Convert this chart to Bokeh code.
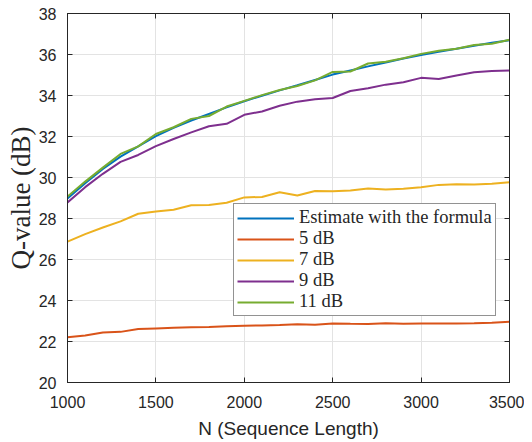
from bokeh.plotting import figure
from bokeh.models import LinearAxis, Legend, LegendItem, FixedTicker, Range1d
from bokeh.embed import file_html
from bokeh.resources import INLINE

# ---- data -------------------------------------------------------------
N = [1000, 1100, 1200, 1300, 1400, 1500, 1600, 1700, 1800, 1900, 2000, 2100, 2200,
     2300, 2400, 2500, 2600, 2700, 2800, 2900, 3000, 3100, 3200, 3300, 3400, 3500]

estimate = [28.98, 29.72, 30.42, 31.02, 31.52, 32.02, 32.42, 32.78, 33.10, 33.42, 33.72,
            33.99, 34.25, 34.50, 34.76, 35.02, 35.22, 35.42, 35.61, 35.80, 35.97, 36.13,
            36.28, 36.43, 36.57, 36.70]
snr5 = [22.21, 22.29, 22.44, 22.47, 22.61, 22.64, 22.67, 22.69, 22.71, 22.74, 22.77, 22.78,
        22.80, 22.84, 22.82, 22.88, 22.86, 22.85, 22.89, 22.86, 22.88, 22.88, 22.88, 22.89,
        22.91, 22.96]
snr7 = [26.87, 27.24, 27.56, 27.86, 28.23, 28.34, 28.43, 28.65, 28.66, 28.77, 29.03, 29.05,
        29.28, 29.12, 29.34, 29.33, 29.37, 29.46, 29.41, 29.45, 29.53, 29.64, 29.67, 29.66,
        29.70, 29.77]
snr9 = [28.78, 29.53, 30.18, 30.76, 31.10, 31.53, 31.88, 32.20, 32.50, 32.62, 33.06, 33.22,
        33.50, 33.70, 33.82, 33.88, 34.22, 34.35, 34.53, 34.65, 34.86, 34.81, 34.98, 35.13,
        35.20, 35.22]
snr11 = [29.07, 29.80, 30.48, 31.15, 31.52, 32.12, 32.45, 32.86, 33.00, 33.46, 33.74, 34.02,
         34.27, 34.46, 34.74, 35.15, 35.17, 35.56, 35.65, 35.82, 36.03, 36.18, 36.28, 36.46,
         36.52, 36.72]

series_names = ["Estimate with the formula", "5 dB", "7 dB", "9 dB", "11 dB"]
series_values = [estimate, snr5, snr7, snr9, snr11]
series_colors = ["#0072BD", "#D95319", "#EDB120", "#7E2F8E", "#77AC30"]

x_ticks = [1000, 1500, 2000, 2500, 3000, 3500]
y_ticks = [20, 22, 24, 26, 28, 30, 32, 34, 36, 38]

# ---- figure -----------------------------------------------------------
AX = "#262626"
p = figure(frame_width=442, frame_height=369,
           x_range=Range1d(1000, 3500), y_range=Range1d(20, 38),
           output_backend="svg", toolbar_location=None,
           min_border_left=67, min_border_top=13, min_border_right=15,
           min_border_bottom=60)
p.background_fill_color = "white"
p.border_fill_color = "white"
p.outline_line_color = AX
p.outline_line_width = 1

p.xgrid.grid_line_color = "#e3e3e3"
p.ygrid.grid_line_color = "#e3e3e3"
p.xgrid.ticker = FixedTicker(ticks=x_ticks)
p.ygrid.ticker = FixedTicker(ticks=y_ticks)

p.add_layout(LinearAxis(), "above")
p.add_layout(LinearAxis(), "right")

for ax in p.xaxis:
    ax.ticker = FixedTicker(ticks=x_ticks)
for ax in p.yaxis:
    ax.ticker = FixedTicker(ticks=y_ticks)

for ax in p.axis:
    ax.axis_line_color = AX
    ax.major_tick_line_color = AX
    ax.major_tick_in = 5
    ax.major_tick_out = 0
    ax.minor_tick_line_color = None
    ax.major_label_text_font = "Liberation Sans"
    ax.major_label_text_font_size = "16px"
    ax.major_label_text_color = AX

top_ax = p.above[0]
right_ax = p.right[0]
for ax in (top_ax, right_ax):
    ax.major_label_text_color = None
    ax.major_label_standoff = 0
    ax.axis_label = None

bx = p.below[0]
bx.axis_label = "N (Sequence Length)"
bx.axis_label_text_font = "Liberation Sans"
bx.axis_label_text_font_size = "19px"
bx.axis_label_text_font_style = "normal"
bx.axis_label_text_color = AX
bx.major_label_standoff = 13
bx.axis_label_standoff = 7

ly = p.left[0]
ly.major_label_standoff = 11
ly.axis_label = "Q-value (dB)"
ly.axis_label_text_font = "Liberation Serif"
ly.axis_label_text_font_size = "27px"
ly.axis_label_text_font_style = "normal"
ly.axis_label_text_color = AX
ly.axis_label_standoff = 0

items = []
for name, vals, col in zip(series_names, series_values, series_colors):
    r = p.line(N, vals, line_color=col, line_width=2)
    items.append(LegendItem(label=name, renderers=[r]))

legend = Legend(items=items, location=(166, 66))
legend.label_text_font = "Liberation Serif"
legend.label_text_font_size = "18.5px"
legend.label_text_color = AX
legend.glyph_width = 57
legend.glyph_height = 20
legend.label_height = 20
legend.label_standoff = 5
legend.spacing = 0
legend.padding = 3
legend.margin = 0
legend.border_line_color = AX
legend.border_line_width = 1
legend.background_fill_alpha = 1
p.add_layout(legend, "center")

open("out.html", "w").write(file_html(p, INLINE))
